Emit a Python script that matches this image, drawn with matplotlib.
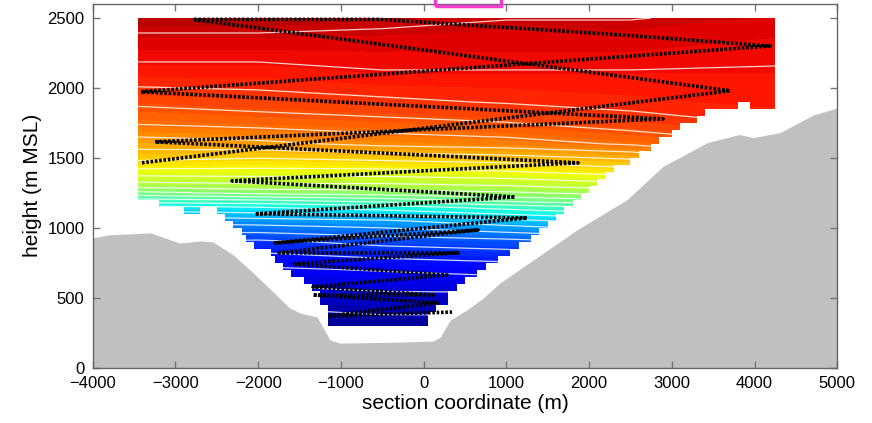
import numpy as np
import matplotlib
matplotlib.use("Agg")
import matplotlib.pyplot as plt
from matplotlib.patches import Polygon, Rectangle

plt.rcParams['font.family'] = ['Liberation Sans', 'DejaVu Sans']

# field grid (normalised potential temperature, 0 = coldest, 1 = warmest)
grid_x = [-3450, -2000, -500, 1000, 2500, 4250]
grid_h = [300, 500, 700, 900, 1050, 1150, 1200, 1250, 1300, 1400, 1500,
          1600, 1750, 1900, 2100, 2300, 2500]
theta = [
    [0.01, 0.01, 0.02, 0.02, 0.04, 0.15],
    [0.05, 0.05, 0.06, 0.06, 0.08, 0.20],
    [0.10, 0.10, 0.11, 0.12, 0.14, 0.25],
    [0.18, 0.17, 0.19, 0.20, 0.22, 0.35],
    [0.26, 0.27, 0.28, 0.31, 0.34, 0.45],
    [0.35, 0.36, 0.38, 0.41, 0.44, 0.55],
    [0.42, 0.43, 0.45, 0.48, 0.50, 0.60],
    [0.49, 0.51, 0.52, 0.53, 0.55, 0.64],
    [0.55, 0.56, 0.56, 0.57, 0.59, 0.68],
    [0.63, 0.63, 0.63, 0.64, 0.66, 0.74],
    [0.69, 0.68, 0.69, 0.70, 0.72, 0.78],
    [0.73, 0.74, 0.76, 0.77, 0.79, 0.82],
    [0.79, 0.80, 0.81, 0.82, 0.84, 0.86],
    [0.83, 0.84, 0.85, 0.86, 0.87, 0.88],
    [0.88, 0.88, 0.89, 0.89, 0.89, 0.89],
    [0.91, 0.91, 0.91, 0.91, 0.91, 0.90],
    [0.95, 0.95, 0.94, 0.93, 0.93, 0.92],
]

# lowest valid height of each data column (left edges), top of data = 2500
col_edges = [-3450, -3200, -2900, -2700, -2500, -2400, -2300, -2200, -2150,
             -2050, -1850, -1800, -1700, -1600, -1450, -1350, -1250, -1150,
             50, 150, 300, 400, 500, 650, 750, 900, 1050, 1150, 1300, 1400,
             1500, 1600, 1700, 1800, 1900, 2000, 2100, 2200, 2300, 2500, 2600,
             2750, 2850, 3000, 3100, 3300, 3400, 3800, 3950, 4250]
col_bottom = [1200, 1150, 1100, 1150, 1100, 1050, 1000, 950, 900, 850, 800,
              750, 700, 650, 600, 550, 450, 300, 400, 450, 550, 600, 650, 700,
              750, 800, 850, 900, 950, 1000, 1050, 1100, 1150, 1200, 1250,
              1300, 1350, 1400, 1450, 1500, 1550, 1600, 1650, 1700, 1750,
              1800, 1850, 1900, 1850]
data_top = 2500

# terrain profile
terrain_x = [-4000, -3800, -3300, -2950, -2700, -2550, -2300, -2060, -1820,
             -1620, -1490, -1290, -1130, -1010, -290, 110, 200, 320, 520, 720,
             920, 1850, 2460, 2890, 3430, 3820, 3980, 4310, 4710, 5000]
terrain_h = [928, 950, 964, 891, 906, 900, 806, 678, 542, 427, 390, 363, 198,
             176, 183, 190, 218, 340, 412, 498, 605, 984, 1202, 1438, 1610,
             1667, 1645, 1681, 1807, 1857]

# flight track
track_x = [-3404, 3703, -2787, -526, 2375, 4187, -3416, 2894, -3247, 1866,
           -2316, 1105, -2038, 1250, -1796, 658, -1747, 416, -1579, 283,
           -1337, 114, -1337, 162, -1156, 343]
track_h = [1465, 1980, 2490, 2490, 2380, 2300, 1973, 1779, 1615, 1465,
           1336, 1221, 1100, 1071, 892, 985, 821, 821, 742, 663,
           577, 520, 520, 463, 370, 398]

fig = plt.figure(figsize=(8.72, 4.23), dpi=100)
ax = fig.add_axes([0.1063, 0.1307, 0.8539, 0.8598])

# stair-step outline of the valid data region
ex = np.repeat(col_edges, 2)[1:-1]
bx = np.repeat(col_bottom, 2)
outline = np.column_stack([np.r_[col_edges[0], ex, col_edges[-1]],
                           np.r_[data_top, bx, data_top]])
clip = Polygon(outline, closed=True, transform=ax.transData, fc='none', ec='none')
ax.add_patch(clip)

cf = ax.contourf(grid_x, grid_h, theta, levels=np.linspace(0, 1, 65), cmap='jet')
cf.set_clip_path(clip)
cl = ax.contour(grid_x, grid_h, theta, levels=np.linspace(0, 1, 29),
                colors='white', linewidths=0.9, alpha=0.8)
cl.set_clip_path(clip)

ax.fill_between(terrain_x, 0, terrain_h, color='#c0c0c0', lw=0)

ax.plot(track_x, track_h, color='black', lw=2.6, ls=(0, (0.7, 0.5)))

ax.set_xlim(-4000, 5000)
ax.set_ylim(0, 2600)
ax.set_xticks(np.arange(-4000, 5001, 1000))
ax.set_yticks(np.arange(0, 2501, 500))
ax.tick_params(direction='in', top=True, right=True, length=5, width=1,
               color='#777777', labelsize=12)
ax.tick_params(axis='x', pad=6)
ax.tick_params(axis='y', pad=6)
for s in ax.spines.values():
    s.set_color('#666666')
    s.set_linewidth(1)
ax.set_xlabel('section coordinate (m)', fontsize=15, labelpad=2)
ax.set_ylabel('height (m MSL)', fontsize=15, labelpad=4)

fig.add_artist(Rectangle((435 / 872, 1 - 6 / 423), 66 / 872, 0.05,
                         transform=fig.transFigure, fill=False,
                         ec='#f03ccd', lw=2.5))

fig.savefig('out.png', dpi=100)
